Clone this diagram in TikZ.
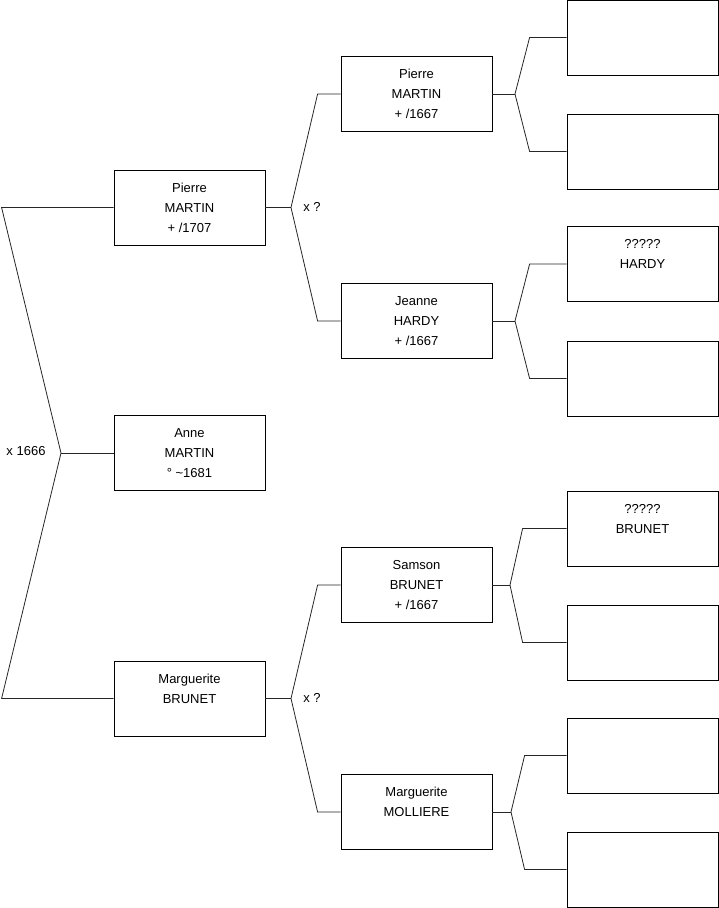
\documentclass[tikz,border=0pt]{standalone}
\usepackage{fontspec}
\setmainfont{Liberation Sans}
\usetikzlibrary{positioning,calc}
\tikzset{
  pers/.style={rectangle, draw=black, line width=0.8pt, fill=white,
               align=center, font=\fontsize{13}{20}\selectfont,
               minimum width=151pt, minimum height=75pt, inner sep=0pt},
  lien/.style={line width=0.8pt, draw=black!85},
  mariage/.style={font=\fontsize{13}{15}\selectfont, inner sep=0pt},
}

\begin{document}
\begin{tikzpicture}[x=1pt, y=-1pt]
        \useasboundingbox (0,0) rectangle (719,908);
        % generation 1 et 2
        \node[pers] (anne) at (189.5,453) {Anne\\MARTIN\\° \textasciitilde1681};
        \node[pers] (pm) at (189.5,207.5) {Pierre\\MARTIN\\+ /1707};
        \node[pers] (mb) at (189.5,698.5) {Marguerite\\BRUNET\\~};
        % generation 3
        \node[pers] (ppm) at (416.5,94) {Pierre\\MARTIN\\+ /1667};
        \node[pers] (jh) at (416.5,321) {Jeanne\\HARDY\\+ /1667};
        \node[pers] (sb) at (416.5,585) {Samson\\BRUNET\\+ /1667};
        \node[pers] (mm) at (416.5,812) {Marguerite\\MOLLIERE\\~};
        % generation 4
        \node[pers] (q1) at (642.5,37.5) {};
        \node[pers] (q2) at (642.5,151.5) {};
        \node[pers] (q3) at (642.5,264) {?????\\HARDY\\~};
        \node[pers] (q4) at (642.5,378.5) {};
        \node[pers] (q5) at (642.5,528.5) {?????\\BRUNET\\~};
        \node[pers] (q6) at (642.5,642.5) {};
        \node[pers] (q7) at (642.5,755.5) {};
        \node[pers] (q8) at (642.5,869.5) {};
        % fourches
        \coordinate (f0) at (61,453);
        \coordinate (f1) at (291,207.5);
        \coordinate (f2) at (291,698.5);
        \coordinate (g1) at (515,94);
        \coordinate (g2) at (515,321);
        \coordinate (g3) at (510,585);
        \coordinate (g4) at (511,812);
        \draw[lien] (anne.west) -- (f0);
        \draw[lien] (pm.west) -- ++(-112,0) -- (f0) -- ([xshift=-112pt]mb.west) -- (mb.west);
        \draw[lien] (pm.east) -- (f1);
        \draw[lien] (ppm.west) -- ++(-23,0) -- (f1) -- ([xshift=-23pt]jh.west) -- (jh.west);
        \draw[lien] (mb.east) -- (f2);
        \draw[lien] (sb.west) -- ++(-23,0) -- (f2) -- ([xshift=-23pt]mm.west) -- (mm.west);
        \draw[lien] (ppm.east) -- (g1);
        \draw[lien] (q1.west) -- ++(-37,0) -- (g1) -- ([xshift=-37pt]q2.west) -- (q2.west);
        \draw[lien] (jh.east) -- (g2);
        \draw[lien] (q3.west) -- ++(-37,0) -- (g2) -- ([xshift=-37pt]q4.west) -- (q4.west);
        \draw[lien] (sb.east) -- (g3);
        \draw[lien] (q5.west) -- ++(-44,0) -- (g3) -- ([xshift=-44pt]q6.west) -- (q6.west);
        \draw[lien] (mm.east) -- (g4);
        \draw[lien] (q7.west) -- ++(-42,0) -- (g4) -- ([xshift=-42pt]q8.west) -- (q8.west);
        % dates de mariage
        \node[mariage] (m0) at (26,451.5) {x 1666};
        \node[mariage] (m1) at (312,207) {x ?};
        \node[mariage] (m2) at (312,697.5) {x ?};
      \end{tikzpicture}
\end{document}
